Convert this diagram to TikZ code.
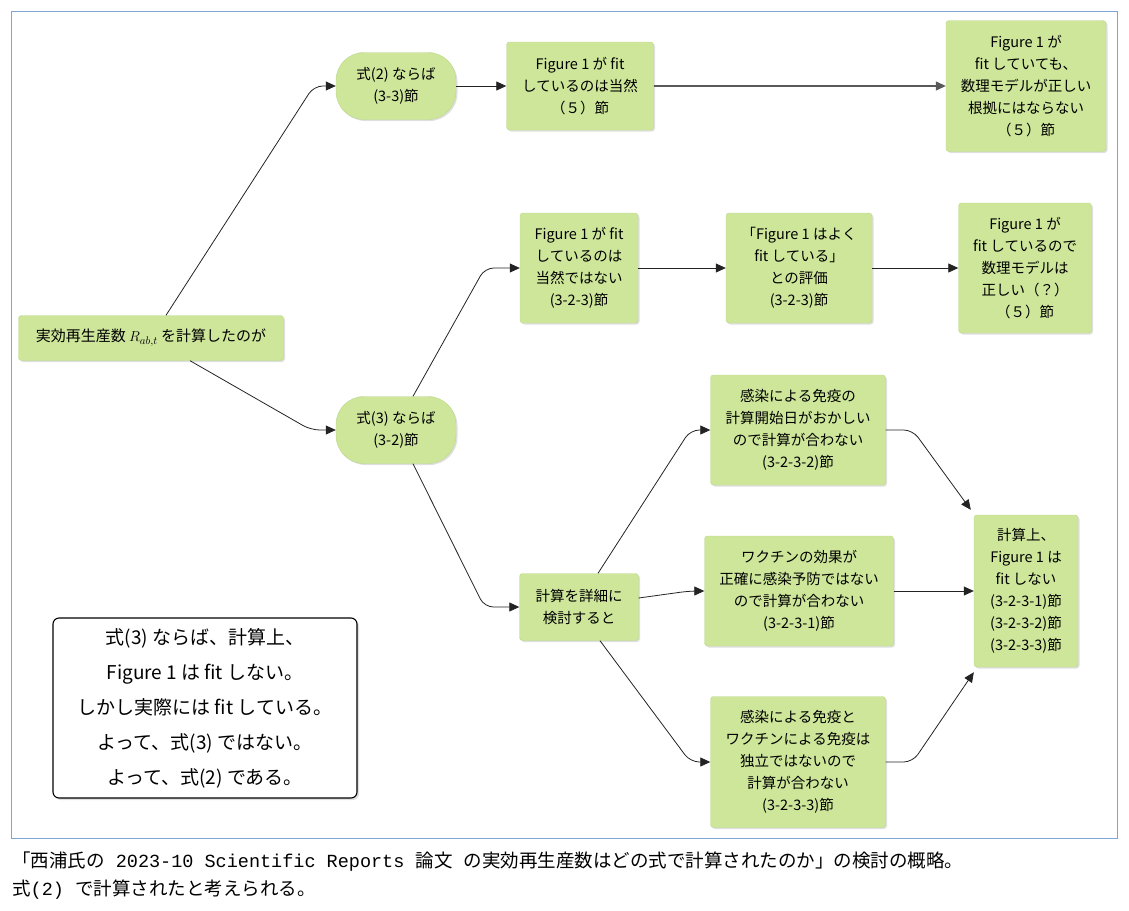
\documentclass[tikz,border=0pt]{standalone}
\usepackage{fontspec}
\setmainfont{Noto Sans CJK JP}
\newfontfamily\capmono{Liberation Mono}
\usepackage{tikz}
\usetikzlibrary{
  	positioning,
  	arrows.meta,
		shadows,
  	calc
  }
\definecolor{boxfill}{RGB}{206,230,154}
\definecolor{boxline}{RGB}{186,216,138}
\definecolor{linecol}{RGB}{35,35,35}
\definecolor{framecol}{RGB}{125,165,215}
\tikzstyle{box}=[draw=boxline,fill=boxfill,rounded corners=3pt,align=center,inner sep=0pt,font=\fontsize{14.5}{22}\selectfont,drop shadow={opacity=0.25,shadow xshift=1.5pt,shadow yshift=-1.5pt}]
\tikzstyle{pill}=[box,rounded corners=28pt]
\tikzstyle{note}=[draw=black,line width=1.1pt,fill=white,rounded corners=6pt,align=center,inner sep=0pt,font=\fontsize{19}{35}\selectfont,drop shadow={opacity=0.25,shadow xshift=2pt,shadow yshift=-2pt}]
\tikzstyle{link}=[draw=linecol,line width=0.8pt,rounded corners=9pt,-{Triangle[length=10pt,width=9pt]}]
\tikzstyle{caption}=[anchor=west,inner sep=0pt,font=\fontsize{18.5}{19}\selectfont]

\begin{document}
\begin{tikzpicture}[x=1pt,y=-1pt]
	\useasboundingbox (0,0) rectangle (1129,910);
	\draw[framecol,line width=0.8pt] (11,11) rectangle (1117,838);
%
	\node[box,minimum width=265,minimum height=45,font=\fontsize{15}{22}\selectfont] at (151,338) (A) {実効再生産数 $R_{ab,t}$ を計算したのが};
	\node[pill,minimum width=120,minimum height=67] at (396,86) (B1) {式(2) ならば\\(3-3)節};
	\node[pill,minimum width=120,minimum height=67] at (396,430) (B2) {式(3) ならば\\(3-2)節};
	\node[box,minimum width=147,minimum height=88] at (580,86) (C1) {Figure 1 が fit\\しているのは当然\\（５）節};
	\node[box,minimum width=160,minimum height=131] at (1026,86) (D1) {Figure 1 が\\fit していても、\\数理モデルが正しい\\根拠にはならない\\（５）節};
	\node[box,minimum width=118,minimum height=110] at (579,268) (C2) {Figure 1 が fit\\しているのは\\当然ではない\\(3-2-3)節};
	\node[box,minimum width=146,minimum height=110] at (799,268) (C3) {「Figure 1 はよく\\fit している」\\との評価\\(3-2-3)節};
	\node[box,minimum width=133,minimum height=130] at (1025,268) (C4) {Figure 1 が\\fit しているので\\数理モデルは\\正しい（？）\\（５）節};
	\node[box,minimum width=119,minimum height=67] at (579,607) (E) {計算を詳細に\\検討すると};
	\node[box,minimum width=175,minimum height=110] at (798,430) (F1) {感染による免疫の\\計算開始日がおかしい\\ので計算が合わない\\(3-2-3-2)節};
	\node[box,minimum width=189,minimum height=110] at (799,591) (F2) {ワクチンの効果が\\正確に感染予防ではない\\ので計算が合わない\\(3-2-3-1)節};
	\node[box,minimum width=175,minimum height=131] at (798,762) (F3) {感染による免疫と\\ワクチンによる免疫は\\独立ではないので\\計算が合わない\\(3-2-3-3)節};
	\node[box,minimum width=104,minimum height=152] at (1026,591) (G) {計算上、\\Figure 1 は\\fit しない\\(3-2-3-1)節\\(3-2-3-2)節\\(3-2-3-3)節};
	\node[note,minimum width=304,minimum height=180] at (205,708) (N) {式(3) ならば、計算上、\\Figure 1 は fit しない。\\しかし実際には fit している。\\よって、式(3) ではない。\\よって、式(2) である。};
%
	\coordinate (G1) at ($(G.north west)+(-3,-5)$);
	\coordinate (G3) at ($(G.south west)+(0,5)$);
%
	\foreach \a/\b in {B1/C1,C2/C3,C3/C4,F2/G}
		\draw[link] (\a) -- (\b);
	\draw[link,draw=black!65,line width=1.3pt] (C1) -- (D1);
	\draw[link] ($(A.north)+(15,0)$) -- ($(B1.west)+(-22,0)$) -- (B1.west);
	\draw[link] ($(A.south)+(39,0)$) -- ($(B2.west)+(-25,0)$) -- (B2.west);
	\draw[link] ($(B2.north)+(17,0)$) -- ($(C2.west)+(-35,0)$) -- (C2.west);
	\draw[link] ($(B2.south)+(17,0)$) -- ($(E.west)+(-35,0)$) -- (E.west);
	\draw[link] ($(E.north)+(19,0)$) -- ($(F1.west)+(-20,0)$) -- (F1.west);
	\draw[link] ($(E.east)+(0,-9)$) -- ($(F2.west)+(-15,0)$) -- (F2.west);
	\draw[link] ($(E.south)+(21,0)$) -- ($(F3.west)+(-20,0)$) -- (F3.west);
	\draw[link] (F1.east) -- ($(F1.east)+(27,0)$) -- (G1);
	\draw[link] (F3.east) -- ($(F3.east)+(27,0)$) -- (G3);
%
	\node[caption] at (12,862) (cap1) {「西浦氏の{\capmono\ 2023-10 Scientific Reports }論文{\capmono\ }の実効再生産数はどの式で計算されたのか」の検討の概略。};
	\node[caption] at (12,890) (cap2) {式{\capmono(2) }で計算されたと考えられる。};
\end{tikzpicture}
\end{document}
